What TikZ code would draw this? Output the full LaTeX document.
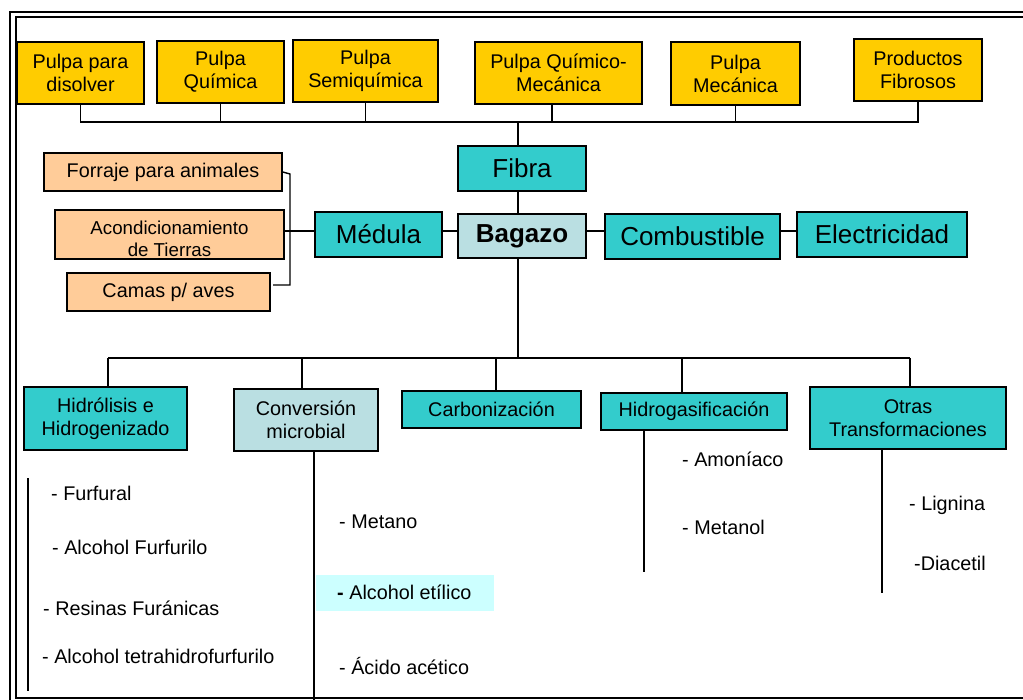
\documentclass[tikz,border=0pt]{standalone}
\usepackage{fontspec}
\setmainfont{Liberation Sans}
\definecolor{yelfill}{HTML}{FFCC00}
\definecolor{tealfill}{HTML}{33CCCC}
\definecolor{lbfill}{HTML}{BADFE2}
\definecolor{orfill}{HTML}{FFCC99}
\definecolor{hlfill}{HTML}{CCFFFF}
\newcommand\myfontA{\fontsize{19.8}{23}\selectfont}
\newcommand\myfontB{\fontsize{26}{30}\selectfont}
\newcommand\myfontC{\fontsize{18.7}{22}\selectfont}
\begin{document}
\begin{tikzpicture}[x=1pt,y=-1pt,
  bx/.style={draw=black,line width=1.6pt,inner sep=0pt,align=center,font=\myfontA},
  ybox/.style={bx,fill=yelfill},
  tbox/.style={bx,fill=tealfill},
  lbox/.style={bx,fill=lbfill},
  obox/.style={bx,fill=orfill},
  ln/.style={line width=1.4pt},
  item/.style={anchor=west,inner sep=0pt,font=\myfontA}]
\useasboundingbox (0,0) rectangle (1023,700);
% frame
\draw[line width=1.5pt] (10,700) -- (10,12) -- (1023,12);
\draw[line width=1.5pt] (1023,17) -- (16,17) -- (16,698) -- (1023,698);
% top boxes
\node[ybox,minimum width=127pt,minimum height=62pt] (p1) at (80.5,73) {Pulpa para\\disolver};
\node[ybox,minimum width=127pt,minimum height=62pt] (p2) at (220.5,72) {Pulpa\\Química};
\node[ybox,minimum width=145pt,minimum height=62pt] (p3) at (365.5,71) {Pulpa\\Semiquímica};
\node[ybox,minimum width=167pt,minimum height=62pt] (p4) at (558.5,73) {Pulpa Químico-\\Mecánica};
\node[ybox,minimum width=129pt,minimum height=63pt] (p5) at (735.5,73.5) {Pulpa\\Mecánica};
\node[ybox,minimum width=128pt,minimum height=62pt] (p6) at (918,70) {Productos\\Fibrosos};
% middle
\node[tbox,font=\myfontB,minimum width=128pt,minimum height=45pt] (fibra) at (522,168.5) {Fibra};
\node[lbox,font=\myfontB\bfseries,minimum width=128pt,minimum height=44pt] (bagazo) at (522,236) {Bagazo};
\node[tbox,font=\myfontB,minimum width=127pt,minimum height=45pt] (medula) at (378.5,234.5) {Médula};
\node[tbox,font=\myfontB,minimum width=175pt,minimum height=45pt] (comb) at (692.5,236.5) {Combustible};
\node[tbox,font=\myfontB,minimum width=170pt,minimum height=45pt] (elec) at (882,234.5) {Electricidad};
\node[obox,minimum width=238pt,minimum height=38pt] (forraje) at (163,172) {Forraje para animales};
\node[obox,minimum width=229pt,minimum height=49pt] (acond) at (169.5,234.5) {};
\begin{scope}
\clip (56,211) rectangle (283,256.5);
\node[font=\myfontC,align=center,inner sep=0pt] (acondtxt) at (169.5,239) {Acondicionamiento\\de Tierras};
\end{scope}
\node[obox,minimum width=203pt,minimum height=38pt] (camas) at (168.5,292) {Camas p/ aves};
% bottom boxes
\node[tbox,minimum width=163pt,minimum height=63pt] (hid) at (105.5,418.5) {Hidrólisis e\\Hidrogenizado};
\node[lbox,minimum width=144pt,minimum height=62pt] (conv) at (306,420) {Conversión\\microbial};
\node[tbox,minimum width=179pt,minimum height=37pt] (carb) at (491.5,409.5) {Carbonización};
\node[tbox,minimum width=186pt,minimum height=37pt] (hgas) at (694,411.5) {Hidrogasificación};
\node[tbox,minimum width=196pt,minimum height=62pt] (otras) at (908,418) {Otras\\Transformaciones};
% top connectors
\coordinate (tb) at (518,122);
\draw[ln] (p1.south) -- (p1.south |- tb) -- (p6.south |- tb) -- (p6.south);
\draw[ln] (p2.south) -- (p2.south |- tb);
\draw[ln] (p3.south) -- (p3.south |- tb);
\draw[ln] ([xshift=-6.5pt]p4.south) -- ([xshift=-6.5pt]p4.south |- tb);
\draw[ln] (p5.south) -- (p5.south |- tb);
\draw[ln] (tb) -- (tb |- fibra.north);
\draw[ln] (tb |- fibra.south) -- (tb |- bagazo.north);
% middle row
\coordinate (hy) at (0,231);
\draw[ln] (medula.east |- hy) -- (bagazo.west |- hy);
\draw[ln] (bagazo.east |- hy) -- (comb.west |- hy);
\draw[ln] (comb.east |- hy) -- (elec.west |- hy);
\draw[ln] (acond.east |- hy) -- (medula.west |- hy);
\coordinate (brk) at (290,174);
\coordinate (cb) at (273,285);
\draw[ln] (forraje.east) -- (brk) -- (brk |- cb) -- (cb);
% bottom bus
\coordinate (bb) at (518,358);
\coordinate (b1) at (108,358);
\coordinate (b2) at (302,358);
\coordinate (b3) at (496,358);
\coordinate (b4) at (682,358);
\coordinate (b5) at (910,358);
\draw[ln] (tb |- bagazo.south) -- (bb);
\draw[ln] (b1) -- (b5);
\draw[ln] (b1) -- (b1 |- hid.north);
\draw[ln] (b2) -- (b2 |- conv.north);
\draw[ln] (b3) -- (b3 |- carb.north);
\draw[ln] (b4) -- (b4 |- hgas.north);
\draw[ln] (b5) -- (b5 |- otras.north);
% lists
\coordinate (cvend) at (314,700);
\coordinate (hgend) at (644,572);
\coordinate (otend) at (882,593);
\draw[ln] (cvend |- conv.south) -- (cvend);
\draw[ln] (hgend |- hgas.south) -- (hgend);
\draw[ln] (otend |- otras.south) -- (otend);
\draw[ln] (28,478) -- (28,691);
\fill[hlfill] (316,575) rectangle (494,611);
\node[item] (l1) at (51,493) {- Furfural};
\node[item] (l2) at (52,547) {- Alcohol Furfurilo};
\node[item] (l3) at (43,608) {- Resinas Furánicas};
\node[item] (l4) at (42,656) {- Alcohol tetrahidrofurfurilo};
\node[item] (m1) at (339,522) {- Metano};
\node[item] (m2) at (337,592) {\textbf{-} Alcohol etílico};
\node[item] (m3) at (339,666) {- Ácido acético};
\node[item] (h1) at (682,459) {- Amoníaco};
\node[item] (h2) at (682,527) {- Metanol};
\node[item] (o1) at (909,505) {- Lignina};
\node[item] (o2) at (914,563) {-Diacetil};
\end{tikzpicture}
\end{document}
